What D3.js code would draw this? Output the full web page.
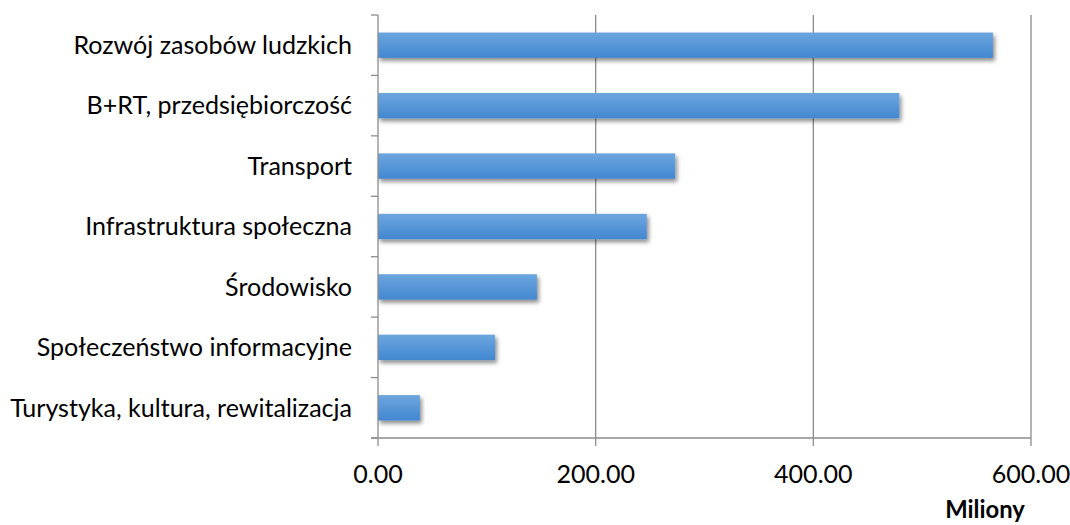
<!DOCTYPE html>
<html><head><meta charset="utf-8">
<script src="https://cdn.jsdelivr.net/npm/d3@7"></script>
<style>body{margin:0;background:#fff}svg{display:block}text{font-family:Lato,"Open Sans",sans-serif;fill:#000}</style>
</head><body><svg id="c" width="1070" height="525"></svg>
<script>
const categories = ["Rozwój zasobów ludzkich","B+RT, przedsiębiorczość","Transport","Infrastruktura społeczna","Środowisko","Społeczeństwo informacyjne","Turystyka, kultura, rewitalizacja"];
const values = [565, 479, 273, 247, 146, 107.5, 38.5];
const xTicks = [0, 200, 400, 600];
const axisTitle = "Miliony";

const svg = d3.select("#c");
const m = {left:378, right:1031, top:15, bottom:438};
const x = d3.scaleLinear().domain([0,600]).range([m.left, m.right]);
const y = d3.scaleBand().domain(categories).range([m.top, m.bottom]).paddingInner(0.58).paddingOuter(0.29);

const defs = svg.append("defs");
const g = defs.append("linearGradient").attr("id","bg").attr("x1",0).attr("y1",0).attr("x2",0).attr("y2",1);
g.append("stop").attr("offset","0%").attr("stop-color","#6da6de");
g.append("stop").attr("offset","100%").attr("stop-color","#4287d0");
const f = defs.append("filter").attr("id","sh").attr("x","-5%").attr("y","-30%").attr("width","115%").attr("height","180%");
f.append("feDropShadow").attr("dx",2).attr("dy",3).attr("stdDeviation",2.2).attr("flood-color","#000").attr("flood-opacity",0.45);

svg.append("g").selectAll("line").data(xTicks.slice(1)).join("line")
  .attr("x1",d=>x(d)).attr("x2",d=>x(d)).attr("y1",m.top).attr("y2",m.bottom+8)
  .attr("stroke","#8c8c8c").attr("stroke-width",1.3);

svg.append("g").selectAll("rect").data(values).join("rect")
  .attr("x",x(0)).attr("y",(d,i)=>y(categories[i])).attr("width",d=>x(d)-x(0)).attr("height",y.bandwidth())
  .attr("fill","url(#bg)").attr("filter","url(#sh)");

const bounds = d3.range(categories.length+1).map(i=>m.top + i*(m.bottom-m.top)/categories.length);
svg.append("line").attr("x1",x(0)).attr("x2",x(0)).attr("y1",m.top).attr("y2",m.bottom+8).attr("stroke","#8c8c8c").attr("stroke-width",1.3);
svg.append("g").selectAll("line").data(bounds).join("line")
  .attr("x1",x(0)-7).attr("x2",x(0)).attr("y1",d=>d).attr("y2",d=>d).attr("stroke","#8c8c8c").attr("stroke-width",1.3);
svg.append("line").attr("x1",x(0)-7).attr("x2",x(600)).attr("y1",m.bottom).attr("y2",m.bottom).attr("stroke","#8c8c8c").attr("stroke-width",1.3);

const labs = svg.append("g").selectAll("text").data(categories).join("text")
  .attr("x",x(0)-26).attr("y",d=>y(d)+y.bandwidth()/2).attr("dy","0.35em").attr("text-anchor","end")
  .style("font-size","19px").text(d=>d);
const w = labs.nodes()[6].getComputedTextLength();
const fs = 19*342/w;
labs.style("font-size",fs.toFixed(2)+"px");

svg.append("g").selectAll("text").data(xTicks).join("text")
  .attr("x",d=>x(d)).attr("y",483).attr("text-anchor","middle").style("font-size",fs.toFixed(2)+"px")
  .text(d=>d3.format(".2f")(d));
svg.append("text").attr("x",985).attr("y",518).attr("text-anchor","middle")
  .style("font-size",(fs*0.95).toFixed(2)+"px").style("font-weight","bold").text(axisTitle);
</script></body></html>
